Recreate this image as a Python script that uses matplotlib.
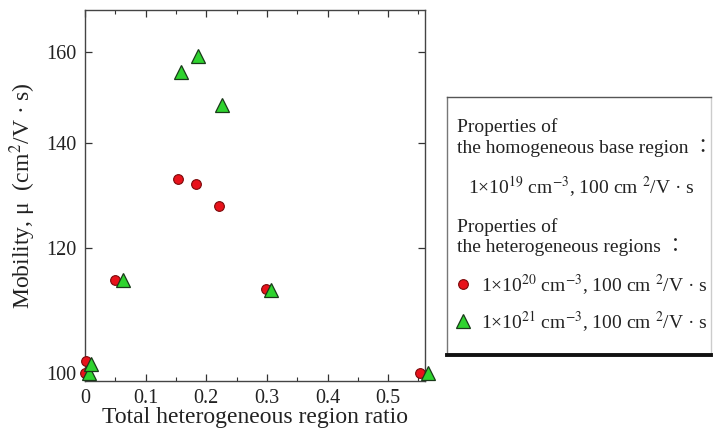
import numpy as np
import matplotlib.pyplot as plt
from matplotlib.ticker import FixedLocator, FixedFormatter, NullLocator, MultipleLocator

plt.rcParams['font.family'] = ['Liberation Serif', 'Noto Sans CJK JP', 'DejaVu Serif']
plt.rcParams['mathtext.fontset'] = 'stix'

# data
ratio_1e20 = [0.0, 0.002, 0.049, 0.153, 0.183, 0.221, 0.299, 0.553]
mu_1e20 = [100.0, 101.7, 114.5, 132.8, 131.9, 127.7, 113.1, 100.0]
ratio_1e21 = [0.007, 0.010, 0.062, 0.158, 0.187, 0.226, 0.306, 0.565]
mu_1e21 = [100.0, 101.3, 114.6, 155.4, 159.0, 148.1, 112.9, 99.9]

yticks = [100, 120, 140, 160]
xticks = [0, 0.1, 0.2, 0.3, 0.4, 0.5]
xticklabels = ['0', '0.1', '0.2', '0.3', '0.4', '0.5']

W, H = 713, 434
fig = plt.figure(figsize=(W/100, H/100), dpi=100)

# main plot
ax = fig.add_axes([85/W, 1-381/H, (424.5-85)/W, (381-10)/H])
ax.set_yscale('log')
ax.set_xlim(0, 0.56)
ax.set_ylim(98.8, 170.2)

ax.plot(ratio_1e20, mu_1e20, 'o', ms=7, mfc='#e8121b', mec='#7a0a0a', mew=0.8,
        clip_on=False, zorder=3)
ax.plot(ratio_1e21, mu_1e21, '^', ms=9.5, mfc='#2fd32f', mec='#1a3a1a', mew=0.9,
        clip_on=False, zorder=4)

ax.yaxis.set_major_locator(FixedLocator(yticks))
ax.yaxis.set_major_formatter(FixedFormatter([str(v) for v in yticks]))
ax.yaxis.set_minor_locator(NullLocator())
ax.xaxis.set_major_locator(FixedLocator(xticks))
ax.xaxis.set_major_formatter(FixedFormatter(xticklabels))
ax.xaxis.set_minor_locator(MultipleLocator(0.05))

ax.tick_params(which='both', direction='in', top=True, right=True,
               labelsize=14.5, colors='#333333', labelcolor='#222222', pad=6)
ax.tick_params(which='major', length=5, width=0.9)
ax.tick_params(which='minor', length=3, width=0.8)
for s in ax.spines.values():
    s.set_color('#444444')
    s.set_linewidth(1.0)

ax.set_xlabel('Total heterogeneous region ratio', fontsize=17, color='#222222',
              labelpad=-1)
ax.set_ylabel(r'Mobility, μ  (cm$^{2}$/V · s)', fontsize=17, color='#222222',
              labelpad=6)

# legend panel
lg = fig.add_axes([447/W, 1-355/H, (711-447)/W, (355-97)/H])
lg.set_xlim(447, 711)
lg.set_ylim(355, 97)
lg.set_xticks([])
lg.set_yticks([])
for s in lg.spines.values():
    s.set_color('#777777')
    s.set_linewidth(1.0)
lg.spines['bottom'].set_color('#111111')
lg.spines['bottom'].set_linewidth(2.8)
lg.spines['top'].set_color('#555555')
lg.spines['right'].set_color('#cccccc')

fs = 14
tc = '#222222'
unit = r'100 cm $^{2}$/V · s'
lg.text(457, 127, 'Properties of', fontsize=fs, color=tc, va='center', clip_on=False)
lg.text(457, 148, 'the homogeneous base region ：', fontsize=fs, color=tc,
        va='center', clip_on=False)
lg.text(468, 187, r'1×10$^{19}$ cm$^{-3}$, ' + unit, fontsize=fs,
        color=tc, va='center', clip_on=False)
lg.text(457, 227, 'Properties of', fontsize=fs, color=tc, va='center', clip_on=False)
lg.text(457, 247, 'the heterogeneous regions ：', fontsize=fs, color=tc,
        va='center', clip_on=False)
lg.plot([463], [284], 'o', ms=7, mfc='#e8121b', mec='#7a0a0a', mew=0.8)
lg.text(481, 285, r'1×10$^{20}$ cm$^{-3}$, ' + unit, fontsize=fs,
        color=tc, va='center', clip_on=False)
lg.plot([463], [321], '^', ms=9.5, mfc='#2fd32f', mec='#1a3a1a', mew=0.9)
lg.text(481, 322, r'1×10$^{21}$ cm$^{-3}$, ' + unit, fontsize=fs,
        color=tc, va='center', clip_on=False)

fig.savefig('out.png', dpi=100)
